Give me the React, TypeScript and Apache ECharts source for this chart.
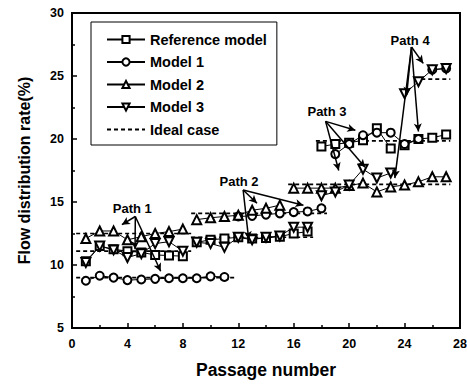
import React, { useEffect, useRef } from "react";
import * as echarts from "echarts";

const passages = [1, 2, 3, 4, 5, 6, 7, 8, 9, 10, 11, 12, 13, 14, 15, 16, 17, 18, 19, 20, 21, 22, 23, 24, 25, 26, 27];

const referenceModel = [10.3, 11.5, 11.25, 11.1, 11.0, 10.8, 10.75, 10.7, 11.8, 12.0, 12.1, 12.2, 12.1, 12.15, 12.25, 12.5, 12.65, 19.4, 19.6, 19.7, 19.9, 20.85, 19.25, 19.5, 20.0, 20.1, 20.35];
const referencePaths = [8, 9, 6, 4];

const model1 = [8.75, 9.15, 9.0, 8.8, 8.85, 8.9, 8.95, 8.95, 8.95, 9.1, 9.05, 13.85, 13.9, 14.0, 14.1, 14.2, 14.25, 14.5, 18.8, 19.6, 20.3, 20.5, 20.5, 19.6, 20.0, 25.5, 25.6];
const model1Paths = [11, 7, 7, 2];

const model2 = [12.1, 12.7, 12.7, 12.0, 12.25, 12.5, 12.65, 12.85, 13.6, 13.75, 13.85, 13.95, 14.35, 14.5, 14.75, 16.1, 16.1, 16.1, 16.1, 16.3, 16.5, 15.8, 16.2, 16.35, 16.6, 17.0, 17.0];
const model2Paths = [8, 7, 12];

const model3 = [10.2, 11.5, 11.2, 10.6, 10.9, 11.7, 11.85, 11.1, 11.8, 11.7, 11.4, 12.2, 12.0, 12.2, 12.3, 13.0, 13.0, 15.5, 15.8, 16.35, 17.6, 16.9, 17.3, 23.6, 24.55, 25.5, 25.6];
const model3Paths = [8, 9, 6, 4];

const idealStart = [0.3, 0.3, 0.3, 8.6, 8.6, 15.6, 17.6, 24.7];
const idealEnd = [8.6, 8.6, 11.8, 17.4, 18.4, 27.3, 27.3, 27.3];
const idealValue = [12.5, 11.1, 9.0, 12.2, 14.1, 16.4, 19.85, 24.75];

const pathLabels = ["Path 1", "Path 2", "Path 3", "Path 4"];
const pathLabelX = [4.35, 12.05, 18.4, 24.4];
const pathLabelY = [14.5, 16.65, 22.15, 27.85];

const arrowFromX = [4.57, 4.57, 4.57, 12.35, 12.35, 12.35, 18.3, 18.3, 18.3, 24.5, 24.5, 24.5, 24.5];
const arrowFromY = [13.85, 13.85, 13.85, 15.95, 15.95, 15.95, 21.4, 21.4, 21.4, 27.3, 27.3, 27.3, 27.3];
const arrowToX = [3.6, 4.55, 6.4, 16.7, 13.35, 12.75, 20.45, 19.25, 21.15, 25.35, 24.15, 25.0, 23.3];
const arrowToY = [13.2, 11.25, 9.5, 14.75, 14.9, 12.05, 20.7, 17.5, 17.75, 26.0, 23.5, 20.6, 16.9];

const FONT = "'Liberation Sans', Arial, Helvetica, sans-serif";

function withBreaks(values: number[], paths: number[]) {
  const out: any[] = [];
  let i = 0;
  paths.forEach((n, p) => {
    for (let k = 0; k < n; k++) {
      out.push([passages[i], values[i]]);
      i++;
    }
    if (p < paths.length - 1) out.push([passages[i - 1] + 0.5, null]);
  });
  return out;
}

function idealData() {
  const out: any[] = [];
  idealValue.forEach((v, i) => {
    out.push([idealStart[i], v]);
    out.push([idealEnd[i], v]);
    out.push([idealEnd[i] + 0.01, null]);
  });
  return out;
}

export default function App() {
  const ref = useRef<HTMLDivElement>(null);
  useEffect(() => {
    if (!ref.current) return;
    const chart = echarts.init(ref.current, undefined, { renderer: "svg" });
    const lineSeries = (name: string, data: any[], symbol: string, rotate = 0, size = 8) => ({
      name,
      type: "line",
      data: data,
      symbol,
      symbolSize: size,
      symbolRotate: rotate,
      connectNulls: false,
      lineStyle: { color: "#000", width: 1 },
      itemStyle: { color: "#000", borderColor: "#000", borderWidth: 1.3 },
      emphasis: { disabled: true },
      z: 3,
    });
    const option: any = {
      animation: false,
      backgroundColor: "#fff",
      textStyle: { fontFamily: FONT },
      grid: {
        left: 72,
        right: 7,
        top: 13,
        bottom: 56,
        show: true,
        borderColor: "#000",
        borderWidth: 2,
        containLabel: false,
        outerBoundsMode: "none",
      },
      legend: {
        orient: "vertical",
        left: 91,
        top: 22,
        padding: [10, 10, 8, 15],
        itemWidth: 38,
        itemHeight: 9,
        itemGap: 7.5,
        borderColor: "#000",
        borderWidth: 1,
        selectedMode: false,
        backgroundColor: "#fff",
        data: [
          "Reference model",
          "Model 1",
          "Model 2",
          "Model 3",
          { name: "Ideal case", itemStyle: { opacity: 0 } },
        ],
        textStyle: { fontSize: 14.5, fontWeight: "bold", color: "#000", fontFamily: FONT },
      },
      xAxis: {
        type: "value",
        min: 0,
        max: 28,
        interval: 4,
        name: "Passage number",
        nameLocation: "middle",
        nameGap: 33,
        nameTextStyle: { fontSize: 17.5, fontWeight: "bold", color: "#000", fontFamily: FONT },
        axisLine: { show: true, lineStyle: { color: "#000", width: 2 } },
        axisTick: { show: true, inside: true, length: 5, lineStyle: { color: "#000", width: 1.5 } },
        minorTick: { show: true, splitNumber: 2, length: 3, lineStyle: { color: "#000", width: 1.5 } },
        splitLine: { show: false },
        minorSplitLine: { show: false },
        axisLabel: { color: "#000", fontWeight: "bold", fontSize: 12.5, margin: 9, fontFamily: FONT },
      },
      yAxis: {
        type: "value",
        min: 5,
        max: 30,
        interval: 5,
        name: "Flow distribution rate(%)",
        nameLocation: "middle",
        nameGap: 40,
        nameTextStyle: { fontSize: 16, fontWeight: "bold", color: "#000", fontFamily: FONT },
        axisLine: { show: true, lineStyle: { color: "#000", width: 2 } },
        axisTick: { show: true, inside: true, length: 5, lineStyle: { color: "#000", width: 1.5 } },
        minorTick: { show: true, splitNumber: 2, length: 3, lineStyle: { color: "#000", width: 1.5 } },
        splitLine: { show: false },
        minorSplitLine: { show: false },
        axisLabel: { color: "#000", fontWeight: "bold", fontSize: 12.5, margin: 8, fontFamily: FONT },
      },
      series: [
        {
          name: "Ideal case",
          type: "line",
          data: idealData(),
          symbol: "none",
          connectNulls: false,
          lineStyle: { color: "#000", width: 1.6, type: [4, 3] },
          itemStyle: { color: "#000" },
          emphasis: { disabled: true },
          z: 2,
          markLine: {
            silent: true,
            symbol: ["none", "arrow"],
            symbolSize: [6, 8],
            label: { show: false },
            lineStyle: { color: "#000", width: 1.5, type: "solid" },
            emphasis: { disabled: true },
            data: arrowFromX.map((fx, i) => [
              { coord: [fx, arrowFromY[i]] },
              { coord: [arrowToX[i], arrowToY[i]] },
            ]),
          },
          markPoint: {
            silent: true,
            symbol: "rect",
            symbolSize: 1,
            itemStyle: { color: "rgba(0,0,0,0)" },
            label: {
              show: true,
              position: "inside",
              color: "#000",
              fontWeight: "bold",
              fontSize: 13,
              fontFamily: FONT,
              formatter: (p: any) => p.name,
            },
            data: pathLabels.map((t, i) => ({ name: t, coord: [pathLabelX[i], pathLabelY[i]] })),
          },
        },
        lineSeries("Reference model", withBreaks(referenceModel, referencePaths), "emptyRect", 0, 8),
        lineSeries("Model 1", withBreaks(model1, model1Paths), "emptyCircle", 0, 8),
        lineSeries("Model 2", withBreaks(model2, model2Paths), "emptyTriangle", 0, 9),
        lineSeries("Model 3", withBreaks(model3, model3Paths), "emptyTriangle", 180, 9),
      ],
    };
    chart.setOption(option);
    return () => chart.dispose();
  }, []);
  return (
    <div
      ref={ref}
      style={{ position: "fixed", left: 0, top: 0, width: 467, height: 384, background: "#fff" }}
    />
  );
}
